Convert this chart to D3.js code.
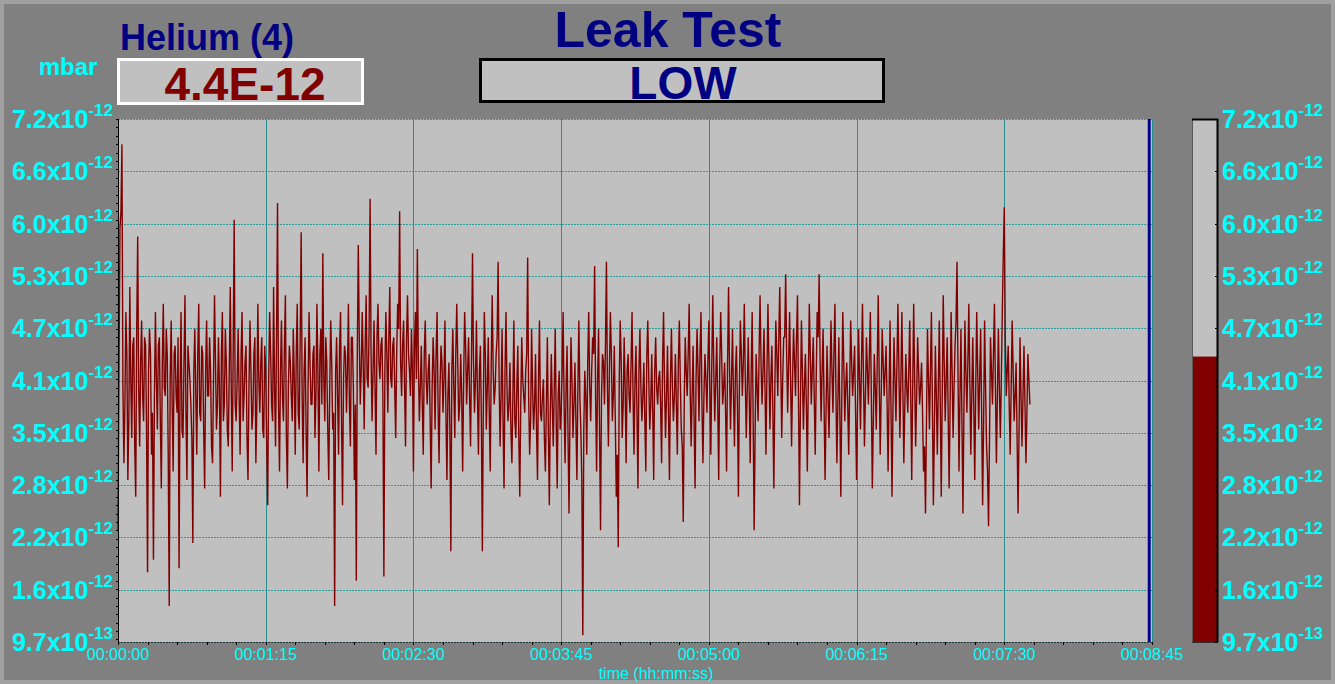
<!DOCTYPE html>
<html>
<head>
  <meta charset="utf-8">
  <script src="https://d3js.org/d3.v7.min.js"></script>
  <style>
    body { margin: 0; background: #808080; }
    text { font-family: 'Liberation Sans', Arial, sans-serif; }
    .big { font-weight: bold; }
  </style>
</head>
<body>
<div id="chartContainer"></div>
<script type="text/javascript">

  // helium signal, in units of 1e-12 mbar, samples on the whole second
  var leakValues = [
    2.3, 5.9, 6.9, 3.1, 4.9, 2.9, 5.2, 3.4, 4.6, 2.7, 5.8, 3.3, 4.8, 3.6, 4.5, 1.8, 4.7, 3.2, 1.95, 4.9,
    3.5, 4.6, 2.8, 5.0, 3.9, 4.4, 1.4, 4.8, 3.0, 4.5, 3.7, 1.85, 4.9, 3.4, 5.1, 2.9, 4.3, 3.8, 2.15, 4.7,
    3.2, 5.0, 3.6, 4.4, 2.8, 4.8, 3.9, 4.2, 3.1, 5.1, 3.5, 4.6, 2.7, 4.9, 3.8, 4.3, 3.3, 5.2, 3.0, 6.0,
    3.6, 4.7, 3.2, 4.9, 3.9, 4.5, 2.9, 4.8, 3.5, 4.4, 3.1, 5.0, 3.7, 4.6, 3.4, 4.2, 2.6, 4.9, 3.8, 5.2,
    3.3, 6.2, 3.0, 4.8, 3.6, 5.1, 2.8, 4.5, 3.9, 4.7, 3.2, 5.0, 3.5, 5.85, 3.1, 4.6, 2.7, 4.9, 3.8, 4.4,
    3.4, 5.0, 3.0, 4.7, 5.6, 3.6, 4.3, 2.9, 4.8, 3.5, 1.4, 4.6, 3.2, 4.9, 2.6, 4.5, 3.7, 5.0, 3.3, 4.6,
    2.9, 1.7, 5.7, 3.8, 4.9, 3.5, 5.1, 4.0, 6.25, 3.6, 4.8, 3.2, 5.0, 4.1, 4.6, 1.75, 4.9, 3.7, 5.2, 4.0,
    4.6, 3.4, 5.0, 6.1, 3.9, 4.8, 3.3, 5.1, 4.2, 4.7, 3.0, 4.9, 5.65, 3.6, 4.5, 3.2, 4.8, 3.8, 4.4, 2.8,
    4.6, 3.5, 4.9, 3.1, 4.5, 3.7, 4.8, 2.9, 4.3, 2.05, 4.7, 3.4, 5.0, 3.6, 4.4, 3.0, 4.9, 3.8, 4.6, 3.3,
    5.6, 3.7, 4.8, 3.2, 4.5, 2.05, 4.9, 3.5, 4.6, 3.0, 5.1, 3.8, 4.4, 5.5, 3.3, 4.7, 2.8, 4.9, 3.6, 4.3,
    3.1, 4.8, 3.4, 4.5, 2.7, 4.6, 3.9, 4.2, 5.55, 3.2, 4.7, 3.5, 4.4, 2.9, 4.8, 3.6, 4.1, 3.0, 4.6, 2.6,
    4.4, 3.3, 4.7, 2.8, 4.2, 3.7, 4.9, 3.1, 4.5, 2.5, 4.6, 3.4, 4.3, 2.9, 4.8, 3.5, 1.05, 4.2, 3.2, 4.9,
    3.6, 4.6, 5.45, 3.0, 4.7, 2.3, 4.4, 3.8, 5.5, 3.3, 4.9, 3.6, 4.5, 2.7, 2.1, 4.8, 3.4, 4.6, 3.1, 4.4,
    3.7, 4.9, 3.2, 4.5, 2.8, 4.7, 3.6, 4.3, 3.0, 4.8, 3.5, 4.4, 2.9, 4.6, 3.8, 4.2, 3.1, 4.9, 3.4, 4.5,
    2.9, 4.7, 3.6, 4.4, 3.2, 4.8, 3.5, 2.4, 4.6, 3.9, 5.0, 3.3, 4.5, 2.8, 4.7, 3.6, 4.9, 3.1, 4.4, 3.7,
    4.8, 3.2, 5.1, 3.6, 4.6, 2.9, 4.9, 3.8, 4.3, 3.0, 5.2, 3.5, 4.7, 3.3, 4.5, 2.7, 4.8, 3.9, 5.0, 3.4,
    4.6, 3.1, 4.9, 2.3, 4.4, 3.6, 5.1, 3.8, 4.7, 3.2, 5.0, 3.5, 4.5, 2.8, 4.8, 3.9, 5.2, 3.4, 4.6, 5.35,
    3.7, 4.9, 3.3, 4.7, 3.9, 5.1, 2.6, 4.8, 3.5, 4.4, 3.0, 5.0, 3.8, 4.6, 3.2, 4.9, 5.35, 3.6, 4.7, 2.9,
    4.5, 3.4, 4.8, 3.7, 5.0, 3.1, 4.6, 2.7, 4.9, 3.6, 4.3, 3.2, 4.8, 3.9, 4.5, 2.9, 4.7, 3.5, 5.0, 3.3,
    4.6, 3.8, 4.9, 2.8, 4.4, 3.5, 5.1, 3.2, 4.7, 3.9, 4.5, 3.0, 4.8, 2.7, 4.6, 3.6, 5.0, 3.4, 4.9, 3.1,
    4.4, 3.7, 4.8, 2.9, 5.0, 3.3, 4.6, 3.8, 4.3, 3.0, 2.5, 4.7, 3.5, 4.9, 2.6, 4.5, 3.2, 4.8, 2.7, 5.1,
    3.6, 4.6, 2.8, 4.9, 3.4, 4.5, 5.5, 3.0, 4.7, 2.5, 4.8, 3.7, 5.0, 3.2, 4.6, 2.9, 4.9, 3.5, 4.7, 2.6,
    4.8, 3.3, 2.35, 4.6, 3.8, 5.0, 3.1, 4.7, 3.4, 4.9, 6.15, 3.9, 4.5, 3.2, 4.8, 3.6, 4.3, 2.5, 4.6, 3.3,
    4.5, 3.1, 4.4, 3.8
  ];

  // samples taken half a second after each of the above
  var leakValuesMid = [
    4.2, 6.1, 4.0, 3.8, 4.4, 3.6, 4.1, 4.5, 3.3, 4.7, 4.0, 4.3, 3.9, 4.6, 3.5, 4.2, 4.4, 3.7, 3.9, 4.1,
    4.5, 3.6, 4.3, 4.0, 4.7, 3.2, 4.1, 3.8, 4.4, 3.9, 4.6, 4.0, 3.5, 4.3, 3.7, 4.5, 4.1, 3.4, 4.2, 3.9,
    4.4, 3.7, 4.5, 3.5, 4.2, 3.9, 4.6, 3.3, 4.1, 4.3, 3.8, 4.0, 4.4, 3.6, 4.7, 3.5, 4.2, 4.0, 4.5, 3.8,
    4.1, 3.9, 4.4, 3.6, 4.3, 3.4, 4.0, 4.2, 3.7, 4.6, 3.8, 4.1, 4.3, 3.5, 4.5, 3.3, 4.1, 4.4, 3.6, 4.0,
    4.6, 3.8, 4.2, 3.9, 4.5, 3.4, 4.0, 4.3, 3.6, 4.1, 4.4, 3.7, 4.6, 3.9, 4.2, 3.5, 4.0, 4.3, 3.8, 4.5,
    3.9, 4.2, 4.4, 3.8, 4.1, 4.6, 3.5, 4.0, 4.3, 3.7, 4.2, 3.9, 4.5, 3.6, 4.1, 4.4, 4.2, 3.8, 4.6, 4.0,
    3.8, 4.4, 4.6, 4.2, 4.3, 4.5, 4.1, 4.7, 4.4, 4.2, 4.0, 4.6, 4.3, 4.5, 3.9, 4.2, 4.4, 4.6, 4.1, 4.5,
    4.0, 4.4, 4.7, 4.3, 4.5, 4.0, 4.6, 4.4, 3.9, 4.2, 4.5, 4.1, 4.3, 4.0, 3.8, 4.4, 4.1, 4.2, 3.6, 4.0,
    4.2, 4.4, 3.8, 4.0, 4.3, 4.1, 3.7, 3.9, 3.5, 4.2, 4.0, 4.4, 4.3, 3.8, 3.9, 4.1, 4.5, 4.2, 3.9, 4.4,
    4.3, 4.1, 3.9, 4.2, 3.6, 3.8, 4.4, 4.0, 3.7, 4.3, 4.2, 4.0, 4.6, 4.1, 3.9, 3.6, 4.2, 4.0, 3.8, 3.5,
    3.9, 3.6, 4.0, 3.4, 3.8, 4.1, 3.7, 4.4, 3.9, 3.6, 4.0, 3.8, 3.5, 4.1, 3.7, 3.9, 3.4, 3.8, 3.5, 3.7,
    3.8, 4.0, 3.6, 3.9, 3.5, 4.2, 3.8, 4.0, 3.4, 3.7, 4.1, 3.8, 3.6, 4.0, 3.9, 2.9, 3.5, 3.9, 4.3, 4.0,
    4.2, 4.4, 3.9, 4.1, 3.5, 3.9, 4.3, 4.5, 4.0, 4.2, 4.4, 3.9, 3.6, 3.2, 4.1, 4.3, 3.8, 4.0, 4.2, 3.9,
    4.3, 3.9, 4.1, 3.7, 4.2, 4.0, 3.9, 3.6, 4.4, 4.1, 3.8, 3.7, 4.2, 4.0, 4.1, 3.8, 4.3, 4.0, 3.9, 3.7,
    4.1, 4.0, 3.9, 3.8, 4.3, 4.1, 3.3, 3.8, 4.2, 4.4, 4.0, 3.9, 3.6, 4.1, 4.2, 4.4, 3.8, 3.9, 4.1, 4.3,
    4.0, 4.3, 4.2, 4.1, 3.8, 4.2, 4.4, 4.0, 3.7, 4.3, 4.2, 4.1, 3.9, 4.2, 3.8, 4.0, 4.4, 4.3, 4.1, 4.0,
    3.9, 4.2, 3.6, 3.5, 4.0, 4.4, 4.3, 4.2, 4.0, 4.2, 4.3, 4.1, 3.7, 4.0, 4.4, 4.6, 4.3, 4.1, 4.6, 4.4,
    4.3, 4.1, 4.1, 4.3, 4.6, 3.9, 3.8, 4.2, 4.0, 3.8, 4.1, 4.4, 4.2, 3.9, 4.1, 4.6, 4.3, 4.2, 3.8, 3.7,
    3.9, 4.1, 4.2, 4.4, 4.0, 3.8, 3.7, 3.9, 4.3, 4.0, 3.8, 4.0, 4.3, 4.2, 3.7, 3.8, 4.1, 4.3, 4.1, 3.9,
    4.2, 4.4, 3.9, 3.6, 4.0, 4.3, 4.1, 3.9, 4.3, 4.2, 3.8, 3.9, 3.7, 3.8, 4.1, 4.3, 4.2, 4.1, 4.0, 3.8,
    4.0, 4.2, 3.9, 4.0, 4.1, 3.9, 4.2, 4.0, 3.7, 3.3, 3.6, 4.1, 4.2, 3.8, 3.5, 3.9, 4.0, 3.8, 3.9, 4.3,
    4.1, 3.7, 3.8, 4.2, 4.0, 4.8, 4.2, 3.9, 3.6, 3.7, 4.2, 4.3, 4.1, 3.9, 3.8, 4.0, 4.2, 4.1, 3.7, 3.6,
    4.0, 3.0, 3.4, 4.2, 4.4, 4.0, 3.9, 4.0, 4.1, 5.6, 4.6, 4.2, 3.8, 4.0, 4.2, 3.9, 3.4, 3.5, 3.9, 3.9,
    3.8, 3.7, 4.1
  ];
  var sampleStep = 0.5; // seconds between points once merged

  // axes
  var timeTicks = [0, 75, 150, 225, 300, 375, 450, 525];
  var timeLabels = ["00:00:00", "00:01:15", "00:02:30", "00:03:45", "00:05:00", "00:06:15", "00:07:30", "00:08:45"];
  var yTicks = [0.97, 1.593, 2.216, 2.839, 3.462, 4.085, 4.708, 5.331, 5.954, 6.577, 7.2];
  var yTickMantissa = ["9.7", "1.6", "2.2", "2.8", "3.5", "4.1", "4.7", "5.3", "6.0", "6.6", "7.2"];
  var yTickExponent = ["-13", "-12", "-12", "-12", "-12", "-12", "-12", "-12", "-12", "-12", "-12"];

  // header values
  var gasName = "Helium (4)";
  var unitName = "mbar";
  var currentValue = 4.37;   // 1e-12 mbar
  var testTitle = "Leak Test";
  var testStatus = "LOW";
  var cursorTime = 523.6;    // seconds

  // merge the two sample lists in time order
  var signal = [];
  leakValues.forEach(function(v, i) {
    signal.push(v);
    if (i < leakValuesMid.length) signal.push(leakValuesMid[i]);
  });

  var W = 1335, H = 684;
  var plot = { left: 118, top: 119, right: 1152, bottom: 642 };

  var svg = d3.select("#chartContainer").append("svg")
      .attr("width", W)
      .attr("height", H);

  // background with light frame
  svg.append("rect")
      .attr("x", 2).attr("y", 2)
      .attr("width", W - 4).attr("height", H - 4)
      .attr("fill", "#808080")
      .attr("stroke", "#a0a0a0")
      .attr("stroke-width", 4);

  var x = d3.scaleLinear().domain([0, 525]).range([plot.left, plot.right]);
  var y = d3.scaleLinear().domain([0.97, 7.2]).range([plot.bottom, plot.top]);

  /*
    header
  */
  svg.append("text").attr("class", "big")
      .attr("x", 207).attr("y", 50)
      .attr("text-anchor", "middle")
      .attr("font-size", 36).attr("fill", "#000080")
      .text(gasName);

  svg.append("text").attr("class", "big")
      .attr("x", 68).attr("y", 75)
      .attr("text-anchor", "middle")
      .attr("font-size", 24).attr("fill", "#00ffff")
      .text(unitName);

  svg.append("rect")
      .attr("x", 118.5).attr("y", 59.5)
      .attr("width", 244).attr("height", 44)
      .attr("fill", "#c0c0c0")
      .attr("stroke", "#ffffff").attr("stroke-width", 3);

  svg.append("text").attr("class", "big")
      .attr("x", 245).attr("y", 100)
      .attr("text-anchor", "middle")
      .attr("font-size", 46).attr("fill", "#800000")
      .text((currentValue * 1e-12).toExponential(1).toUpperCase());

  svg.append("text").attr("class", "big")
      .attr("x", 668).attr("y", 47)
      .attr("text-anchor", "middle")
      .attr("font-size", 50).attr("fill", "#000080")
      .text(testTitle);

  svg.append("rect")
      .attr("x", 480.5).attr("y", 59.5)
      .attr("width", 403).attr("height", 42)
      .attr("fill", "#c0c0c0")
      .attr("stroke", "#000000").attr("stroke-width", 3);

  svg.append("text").attr("class", "big")
      .attr("x", 683).attr("y", 99)
      .attr("text-anchor", "middle")
      .attr("font-size", 46).attr("fill", "#000080")
      .text(testStatus);

  /*
    plot area
  */
  svg.append("rect")
      .attr("x", plot.left).attr("y", plot.top)
      .attr("width", plot.right - plot.left).attr("height", plot.bottom - plot.top)
      .attr("fill", "#c0c0c0");

  // horizontal dashed grid
  svg.append("g").selectAll("line")
      .data(yTicks.slice(1))
      .join("line")
      .attr("x1", plot.left).attr("x2", plot.right)
      .attr("y1", d => Math.round(y(d)) + 0.5).attr("y2", d => Math.round(y(d)) + 0.5)
      .attr("stroke", "#2a9a9a")
      .attr("stroke-dasharray", "2,1");

  // vertical grid
  svg.append("g").selectAll("line")
      .data(timeTicks.slice(1))
      .join("line")
      .attr("x1", d => Math.round(x(d)) + 0.5).attr("x2", d => Math.round(x(d)) + 0.5)
      .attr("y1", plot.top).attr("y2", plot.bottom)
      .attr("stroke", "#2a8f8f");

  // signal
  var line = d3.line()
      .x((d, i) => x(i * sampleStep))
      .y(d => y(d));

  svg.append("path")
      .datum(signal)
      .attr("d", line)
      .attr("fill", "none")
      .attr("stroke", "#800000")
      .attr("stroke-width", 1.4)
      .attr("stroke-linejoin", "bevel");

  // time cursor
  svg.append("line")
      .attr("x1", x(cursorTime)).attr("x2", x(cursorTime))
      .attr("y1", plot.top).attr("y2", plot.bottom)
      .attr("stroke", "#000090")
      .attr("stroke-width", 3);

  // left axis with minor ticks every 0.1
  var leftAxis = svg.append("g");
  leftAxis.append("line")
      .attr("x1", plot.left + 0.5).attr("x2", plot.left + 0.5)
      .attr("y1", plot.top).attr("y2", plot.bottom)
      .attr("stroke", "#000");
  leftAxis.selectAll(".minor")
      .data(d3.range(10, 73).map(d => d / 10))
      .join("line")
      .attr("x1", plot.left - 2).attr("x2", plot.left + 1)
      .attr("y1", d => Math.round(y(d)) + 0.5).attr("y2", d => Math.round(y(d)) + 0.5)
      .attr("stroke", "#000");

  // bottom axis
  var bottomAxis = svg.append("g");
  bottomAxis.append("line")
      .attr("x1", plot.left).attr("x2", plot.right)
      .attr("y1", plot.bottom + 0.5).attr("y2", plot.bottom + 0.5)
      .attr("stroke", "#1a3a3a")
      .attr("stroke-dasharray", "2,1");
  bottomAxis.selectAll(".minor")
      .data(d3.range(0, 526, 15))
      .join("line")
      .attr("x1", d => Math.round(x(d)) + 0.5).attr("x2", d => Math.round(x(d)) + 0.5)
      .attr("y1", plot.bottom).attr("y2", plot.bottom + 3)
      .attr("stroke", "#000");

  bottomAxis.selectAll("text")
      .data(timeTicks)
      .join("text")
      .attr("x", d => x(d))
      .attr("y", 660)
      .attr("text-anchor", "middle")
      .attr("font-size", 16)
      .attr("fill", "#00ffff")
      .text((d, i) => timeLabels[i]);

  svg.append("text")
      .attr("x", 656).attr("y", 679)
      .attr("text-anchor", "middle")
      .attr("font-size", 16)
      .attr("fill", "#00ffff")
      .text("time (hh:mm:ss)");

  // y labels, left and right
  function addYLabels(xPos, anchor) {
    var t = svg.append("g").selectAll("text")
        .data(yTicks)
        .join("text")
        .attr("class", "big")
        .attr("x", xPos)
        .attr("y", d => y(d) + 9)
        .attr("text-anchor", anchor)
        .attr("fill", "#00ffff");
    t.append("tspan")
        .attr("font-size", 25)
        .text((d, i) => yTickMantissa[i] + "x10");
    t.append("tspan")
        .attr("font-size", 17)
        .attr("dy", -12)
        .text((d, i) => yTickExponent[i]);
  }
  addYLabels(113, "end");
  addYLabels(1222, "start");

  /*
    bar gauge on the right
  */
  var gauge = { left: 1192, right: 1218 };
  svg.append("rect")
      .attr("x", gauge.left).attr("y", plot.top)
      .attr("width", gauge.right - gauge.left).attr("height", plot.bottom - plot.top)
      .attr("fill", "#c0c0c0");
  svg.append("rect")
      .attr("x", gauge.left).attr("y", y(currentValue))
      .attr("width", gauge.right - gauge.left).attr("height", plot.bottom - y(currentValue))
      .attr("fill", "#800000");
  svg.append("line")
      .attr("x1", gauge.left + 0.5).attr("x2", gauge.left + 0.5)
      .attr("y1", plot.top).attr("y2", plot.bottom)
      .attr("stroke", "#5a5a5a");
  svg.append("path")
      .attr("d", "M" + gauge.left + "," + (plot.top + 0.5) + "H" + (gauge.right - 0.5) + "V" + plot.bottom)
      .attr("fill", "none")
      .attr("stroke", "#000")
      .attr("stroke-width", 2);
  svg.append("line")
      .attr("x1", gauge.left).attr("x2", gauge.right)
      .attr("y1", plot.bottom + 0.5).attr("y2", plot.bottom + 0.5)
      .attr("stroke", "#303030");
  svg.append("g").selectAll("line")
      .data(yTicks)
      .join("line")
      .attr("x1", gauge.right - 3).attr("x2", gauge.right)
      .attr("y1", d => Math.round(y(d)) + 0.5).attr("y2", d => Math.round(y(d)) + 0.5)
      .attr("stroke", "#000");

</script>
</body>
</html>
